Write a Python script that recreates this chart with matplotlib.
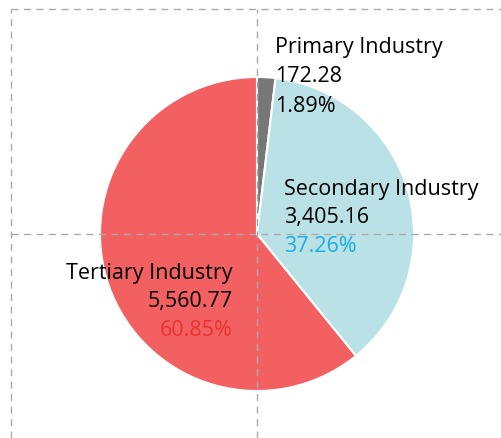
import matplotlib
matplotlib.use('Agg')
import matplotlib.pyplot as plt

plt.rcParams['font.family'] = ['Open Sans', 'DejaVu Sans']

industries = ['Primary Industry', 'Secondary Industry', 'Tertiary Industry']
values = [172.28, 3405.16, 5560.77]
colors = ['#777777', '#b9e1e6', '#f36061']
pct_colors = ['#000000', '#1aaee8', '#e8322f']

W, H = 501, 438
fig = plt.figure(figsize=(W / 100, H / 100), dpi=100)
ax = fig.add_axes([0, 0, 1, 1])

cx, cy = 257, H - 234
ax.pie(values, colors=colors, startangle=90, counterclock=False,
       center=(cx, cy), radius=157, frame=True,
       wedgeprops=dict(edgecolor='white', linewidth=1.5))
ax.set_xlim(0, W)
ax.set_ylim(0, H)
ax.set_aspect('equal')
ax.axis('off')

# dashed guides
ls = dict(color='#aaaaaa', linewidth=1, linestyle=(0, (5, 4)), zorder=5)
ax.plot([11, 11], [0, H - 9], **ls)
ax.plot([11, W], [H - 9, H - 9], **ls)
ax.plot([cx, cx], [0, H - 9], **ls)
ax.plot([11, W], [cy, cy], **ls)

total = sum(values)
pos = [(275, H - 48, 'left'), (284, H - 189, 'left'), (233, H - 273, 'right')]
fs = 15.5
lh = 29
for name, v, pc, (x, y, ha) in zip(industries, values, pct_colors, pos):
    ax.text(x, y, name, ha=ha, va='center', fontsize=fs, color='#000000', zorder=6)
    ax.text(x, y - lh, f'{v:,.2f}', ha=ha, va='center', fontsize=fs, color='#000000', zorder=6)
    ax.text(x, y - 2 * lh, f'{v / total * 100:.2f}%', ha=ha, va='center', fontsize=fs, color=pc, zorder=6)

fig.savefig('out.png', dpi=100)
